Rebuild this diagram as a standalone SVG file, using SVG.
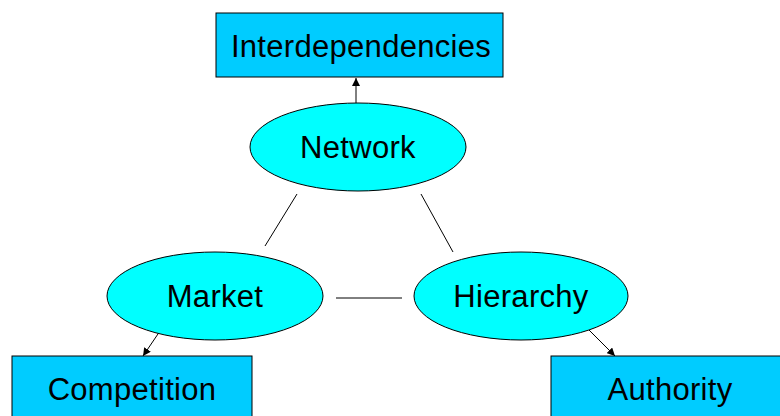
<svg xmlns="http://www.w3.org/2000/svg" width="780" height="416" viewBox="0 0 780 416">
<style>
.box{fill:#00CCFF;stroke:#000;stroke-width:1}
.ell{fill:#00FFFF;stroke:#000;stroke-width:1}
.lbl{font-family:"Liberation Sans",Arial,sans-serif;font-size:31px;letter-spacing:0.3px;fill:#000;text-anchor:middle}
.con{stroke:#000;stroke-width:1;fill:none}
</style>
<defs>
<marker id="ah" viewBox="0 0 10 10" refX="10" refY="5" markerWidth="8" markerHeight="8" orient="auto" markerUnits="userSpaceOnUse">
<path d="M0,0 L10,5 L0,10 z" fill="#000"/>
</marker>
</defs>
<g id="connectors">
<line class="con" x1="356" y1="103" x2="356" y2="78" marker-end="url(#ah)"/>
<line class="con" x1="297" y1="194" x2="265" y2="246"/>
<line class="con" x1="421" y1="194" x2="453" y2="252"/>
<line class="con" x1="336" y1="298" x2="402" y2="298"/>
<line class="con" x1="160" y1="331" x2="143" y2="356" marker-end="url(#ah)"/>
<line class="con" x1="589" y1="330" x2="615" y2="356" marker-end="url(#ah)"/>
</g>
<g id="interdependencies">
<rect class="box" x="216" y="13" width="287" height="64"/>
<text class="lbl" x="361" y="57">Interdependencies</text>
</g>
<g id="network">
<ellipse class="ell" cx="358" cy="147" rx="108" ry="44"/>
<text class="lbl" x="358" y="158">Network</text>
</g>
<g id="market">
<ellipse class="ell" cx="215" cy="296" rx="108" ry="44"/>
<text class="lbl" x="215" y="307">Market</text>
</g>
<g id="hierarchy">
<ellipse class="ell" cx="521" cy="296" rx="107" ry="44"/>
<text class="lbl" x="521" y="307">Hierarchy</text>
</g>
<g id="competition">
<rect class="box" x="12" y="356" width="240" height="70"/>
<text class="lbl" x="132" y="400">Competition</text>
</g>
<g id="authority">
<rect class="box" x="551" y="356" width="240" height="70"/>
<text class="lbl" x="670" y="400">Authority</text>
</g>
</svg>
